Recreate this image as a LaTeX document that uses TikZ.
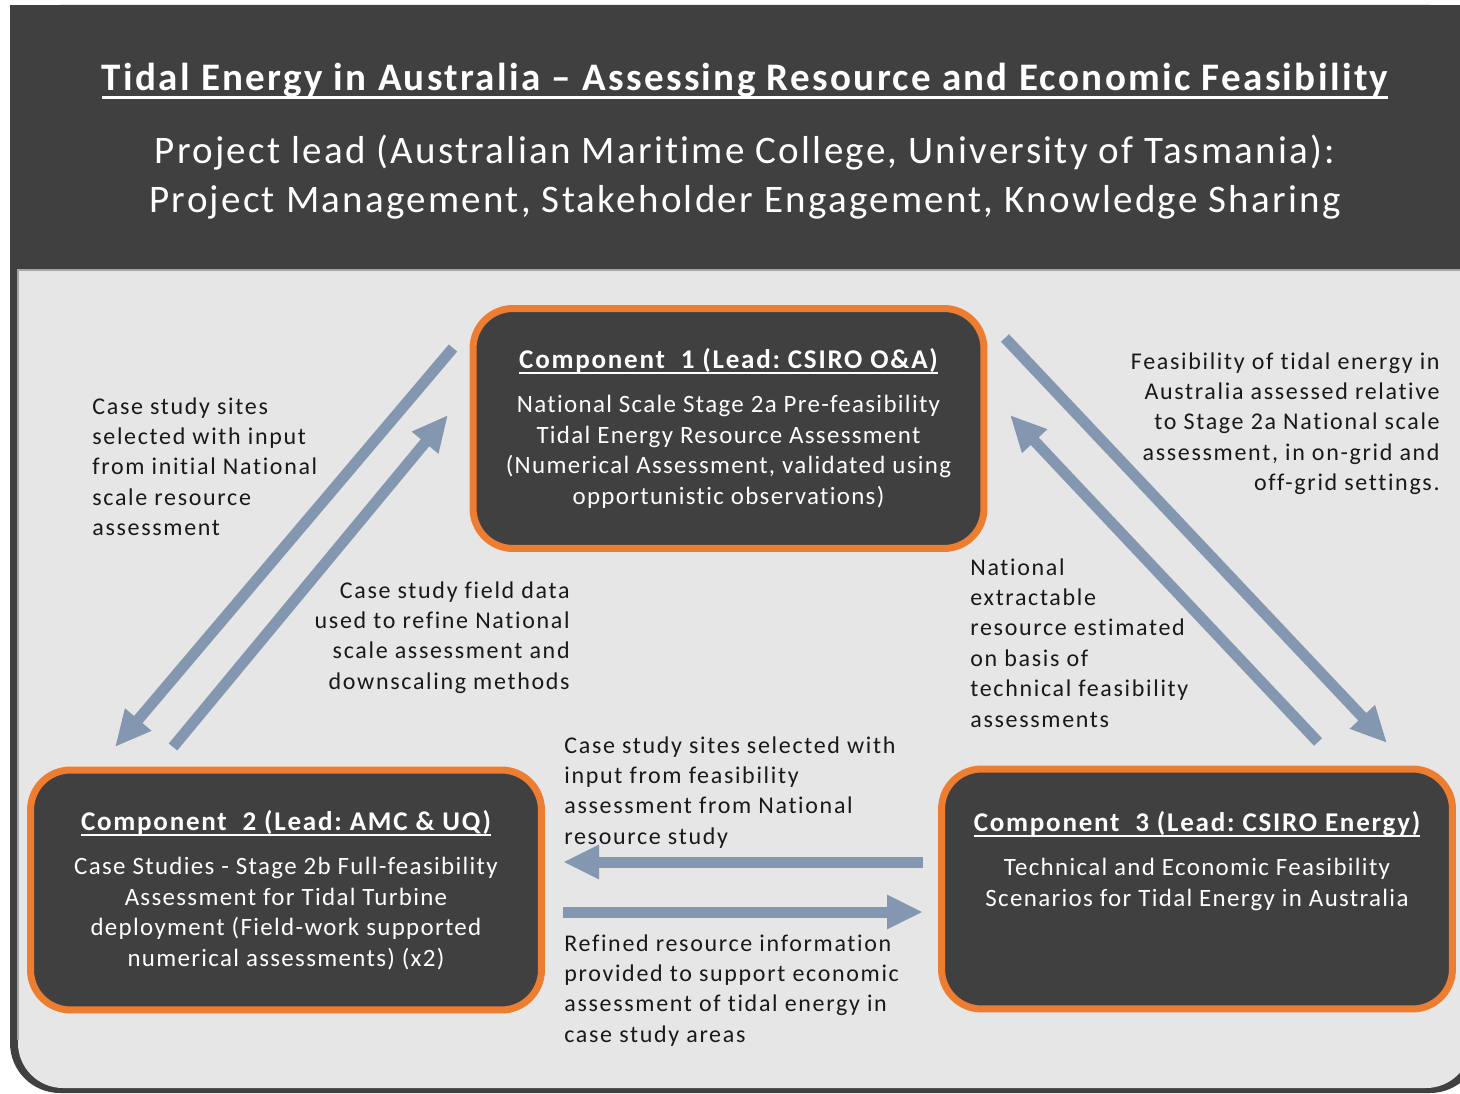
\documentclass[tikz,border=0pt]{standalone}
\usepackage{fontspec}
\setmainfont{Carlito}[Ligatures=NoCommon,LetterSpace=5.3]
\usepackage{tikz}
\usetikzlibrary{arrows.meta,calc}

\definecolor{panelDark}{HTML}{404040}
\definecolor{panelLight}{HTML}{E6E6E6}
\definecolor{panelEdge}{HTML}{A6A6A6}
\definecolor{compEdge}{HTML}{ED7D31}
\definecolor{flowBlue}{HTML}{8497B0}

\newcommand{\titleF}{\fontsize{22.2}{27.9}\selectfont}
\newcommand{\labF}{\fontsize{13.66}{17.35}\selectfont\addfontfeatures{LetterSpace=7}}
\newcommand{\boxF}{\fontsize{14.2}{17.35}\selectfont}
\newcommand{\compF}{\fontsize{15.4}{18}\selectfont\bfseries\addfontfeatures{LetterSpace=6.5}}
% underline sitting just under the baseline
\newcommand{\hdline}[1]{\setbox0\hbox{#1}\rlap{\rule[-0.2em]{\wd0}{0.07em}}\box0}

\begin{document}
\frenchspacing
\begin{tikzpicture}[x=0.02cm,y=-0.02cm,
    every node/.style={inner sep=0pt},
    comp/.style={draw=compEdge,line width=0.14cm,fill=panelDark,rounded corners=0.8cm,
      minimum width=10.22cm,minimum height=4.8cm,text=white,align=center,font=\boxF},
    lab/.style={font=\labF,text=black!90},
    flow/.style={draw=flowBlue,line width=0.22cm,-{Triangle[length=0.72cm,width=0.64cm]}}]
  \useasboundingbox (0,0) rectangle (1460,1094);

  % frame and panel
  \begin{scope}
    \clip (0,0) rectangle (1460,1094);
    \fill[panelDark,rounded corners=1cm] (10,5) rectangle (1480,1093);
    \fill[panelDark] (10,5) rectangle (1480,500);
    \fill[panelLight,rounded corners=0.9cm] (18,270) rectangle (1471,1088);
    \fill[panelLight] (18,270) rectangle (1471,600);
    \draw[panelEdge,line width=0.03cm] (18,1040) -- (18,270) -- (1471,270);
  \end{scope}

  % heading
  \node[font=\titleF\bfseries\addfontfeatures{LetterSpace=6},text=white] (title) at (745,81)
    {\hdline{Tidal Energy in Australia – Assessing Resource and Economic Feasibility}};
  \node[font=\titleF\addfontfeatures{LetterSpace=5.8},text=white,align=center] (lead) at (745,177)
    {Project lead (Australian Maritime College, University of Tasmania):\\
     Project Management, Stakeholder Engagement, Knowledge Sharing};

  % components
  \node[comp] (c1) at (728.5,428.5)
    {{\compF\hdline{Component\ \ 1 (Lead: CSIRO O\&A)}}\\[0.27cm]
     National Scale Stage 2a Pre-feasibility\\
     Tidal Energy Resource Assessment\\
     (Numerical Assessment, validated using\\
     opportunistic observations)};
  \node[comp] (c2) at (286,890)
    {{\compF\hdline{Component\ \ 2 (Lead: AMC \& UQ)}}\\[0.27cm]
     Case Studies - Stage 2b Full-feasibility\\
     Assessment for Tidal Turbine\\
     deployment (Field-work supported\\
     numerical assessments) (x2)};
  \node[comp] (c3) at (1197,889)
    {{\compF\hdline{Component\ \ 3 (Lead: CSIRO Energy)}}\\[0.27cm]
     Technical and Economic Feasibility\\
     Scenarios for Tidal Energy in Australia\\[0.6cm]\mbox{}};

  % flows between components
  \coordinate (s12) at (453,348);  \coordinate (e12) at (115,747);
  \coordinate (s21) at (173,747);  \coordinate (e21) at (448,415);
  \coordinate (s13) at (1005,338); \coordinate (e13) at (1387,743);
  \coordinate (s31) at (1318,742); \coordinate (e31) at (1010,415);
  \coordinate (s32) at (923,862);  \coordinate (e32) at (563,862);
  \coordinate (s23) at (563,912);  \coordinate (e23) at (923,912);
  \draw[flow] (s12) -- (e12);
  \draw[flow] (s21) -- (e21);
  \draw[flow] (s13) -- (e13);
  \draw[flow] (s31) -- (e31);
  \draw[flow] (s32) -- (e32);
  \draw[flow] (s23) -- (e23);

  % flow labels
  \node[lab,align=left,anchor=north west] (n12) at (92,397)
    {Case study sites\\selected with input\\from initial National\\scale resource\\assessment};
  \node[lab,align=right,anchor=north east] (n21) at (570,581)
    {Case study field data\\used to refine National\\scale assessment and\\downscaling methods};
  \node[lab,align=right,anchor=north east] (n13) at (1440,352)
    {Feasibility of tidal energy in\\Australia assessed relative\\to Stage 2a National scale\\assessment, in on-grid and\\off-grid settings.};
  \node[lab,align=left,anchor=north west] (n31) at (970,558)
    {National\\extractable\\resource estimated\\on basis of\\technical feasibility\\assessments};
  \node[lab,align=left,anchor=north west] (n32) at (564,736)
    {Case study sites selected with\\input from feasibility\\assessment from National\\resource study};
  \node[lab,align=left,anchor=north west] (n23) at (564,934)
    {Refined resource information\\provided to support economic\\assessment of tidal energy in\\case study areas};
\end{tikzpicture}
\end{document}
